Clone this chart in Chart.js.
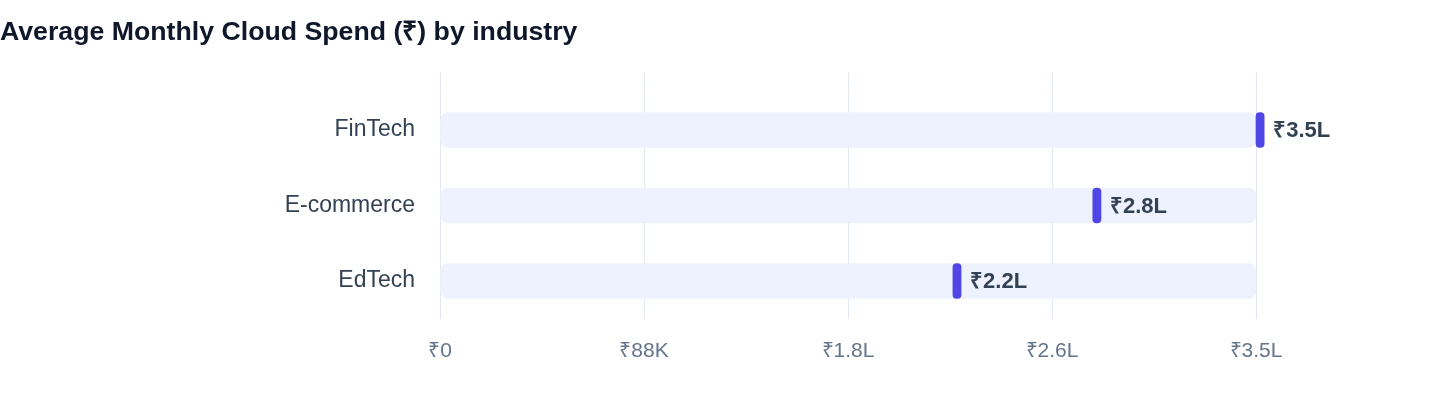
<!DOCTYPE html>
<html>
<head>
<meta charset="utf-8">
<script src="https://cdn.jsdelivr.net/npm/chart.js@4"></script>
<style>
    html, body { margin: 0; padding: 0; background: #fff; }
    .wrap { width: 1440px; height: 408px; position: relative; }
</style>
</head>
<body>
<div class="wrap"><canvas id="spendChart"></canvas></div>
<script>
// Average monthly cloud spend, rupees
const industries = ['FinTech', 'E-commerce', 'EdTech'];
const spend = [350000, 280000, 220000];
const spendLabels = ['₹3.5L', '₹2.8L', '₹2.2L'];
const axisMax = 350000;
const tickValues = [0, 87500, 175000, 262500, 350000];
const tickLabels = ['₹0', '₹88K', '₹1.8L', '₹2.6L', '₹3.5L'];

const FONT = "'Liberation Sans', Arial, Helvetica, sans-serif";
const markerSpan = 3500; // marker thickness in value units (~8px)

// value text just right of each marker
const valueLabels = {
    id: 'valueLabels',
    afterDatasetsDraw(chart) {
        const { ctx, scales: { x, y } } = chart;
        ctx.save();
        ctx.font = 'bold 22px ' + FONT;
        ctx.fillStyle = '#334155';
        ctx.textBaseline = 'middle';
        ctx.textAlign = 'left';
        spend.forEach((v, i) => {
            ctx.fillText(spendLabels[i], x.getPixelForValue(v + markerSpan) + 9, y.getPixelForValue(i) + 1);
        });
        ctx.restore();
    }
};

const xScaleBase = {
    type: 'linear',
    min: 0,
    max: axisMax,
    afterBuildTicks(scale) {
        scale.ticks = tickValues.map(v => ({ value: v }));
    },
};

new Chart(document.getElementById('spendChart').getContext('2d'), {
    type: 'bar',
    data: {
        labels: industries,
        datasets: [
            {
                label: 'Spend',
                data: spend.map(v => [v, v + markerSpan]),
                backgroundColor: '#4f46e5',
                borderRadius: 4,
                borderSkipped: false,
                barThickness: 35,
                grouped: false,
                clip: false,
                order: 0,
            },
            {
                label: 'Track',
                data: industries.map(() => axisMax),
                backgroundColor: '#eef2fe',
                borderRadius: 8,
                borderSkipped: false,
                barThickness: 35,
                grouped: false,
                order: 1,
            },
        ],
    },
    options: {
        indexAxis: 'y',
        responsive: true,
        maintainAspectRatio: false,
        animation: false,
        layout: { padding: { left: 0, right: 184, top: 0, bottom: 24 } },
        plugins: {
            legend: { display: false },
            tooltip: { enabled: false },
            title: {
                display: true,
                text: 'Average Monthly Cloud Spend (₹) by industry',
                align: 'start',
                color: '#0f172a',
                font: { family: FONT, size: 26.7, weight: 'bold' },
                padding: { top: 16.5, bottom: 23.7 },
            },
        },
        scales: {
            x: {
                ...xScaleBase,
                position: 'bottom',
                border: { display: false },
                grid: { color: '#e2e8f0', lineWidth: 1, drawTicks: false },
                ticks: {
                    color: '#64748b',
                    font: { family: FONT, size: 21 },
                    padding: 20,
                    callback: (v, i) => tickLabels[i],
                },
            },
            xTop: {
                ...xScaleBase,
                position: 'top',
                border: { display: false },
                grid: { color: '#e2e8f0', lineWidth: 1, drawOnChartArea: false, tickLength: 20 },
                ticks: { display: false },
            },
            y: {
                border: { display: false },
                grid: { display: false, drawTicks: false },
                ticks: {
                    color: '#334155',
                    font: { family: FONT, size: 23 },
                    padding: 25,
                },
                afterFit(scale) { scale.width = 440; },
            },
        },
    },
    plugins: [valueLabels],
});
</script>
</body>
</html>
